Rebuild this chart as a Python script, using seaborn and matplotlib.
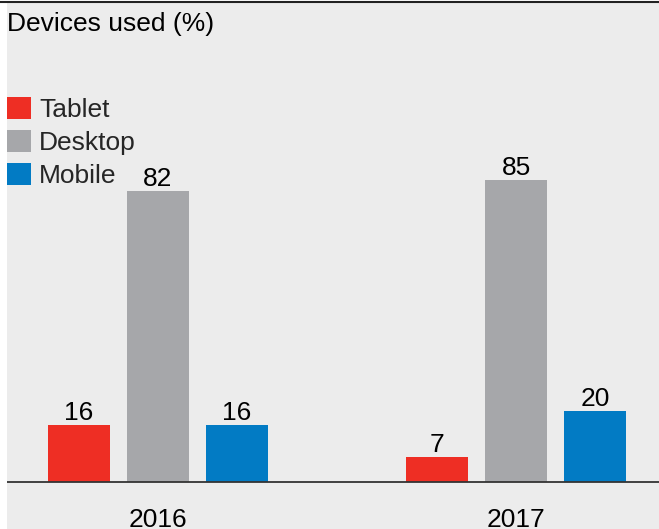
import numpy as np
import pandas as pd
import matplotlib.pyplot as plt
import seaborn as sns

# data
years = ["2016", "2017"]
devices = ["Tablet", "Desktop", "Mobile"]
tablet = [16, 7]
desktop = [82, 85]
mobile = [16, 20]
colors = ["#ee2e24", "#a6a7aa", "#027bc4"]

df = pd.DataFrame({
    "year": years * 3,
    "device": [d for d in devices for _ in years],
    "value": tablet + desktop + mobile,
})

sns.set_style("white")
plt.rcParams["font.family"] = ["Liberation Sans", "DejaVu Sans"]
fs = 19

W, H = 659, 529
fig = plt.figure(figsize=(W / 100, H / 100), dpi=100, facecolor="white")
ax = fig.add_axes([7 / W, 0, (W - 7) / W, (H - 2) / H], facecolor="#ececec")

sns.barplot(data=df, x="year", y="value", hue="device", hue_order=devices,
            palette=colors, saturation=1, width=0.662, gap=0.215,
            linewidth=0, edgecolor="none", ax=ax)

# pixel scale: baseline at 482 px, 3.55 px per unit
ppu = 3.55
ax.set_ylim(-47 / ppu, (H - 2 - 47) / ppu)
ax.set_xlim((7 - 158) / 358, (W - 158) / 358)

for c in ax.containers:
    ax.bar_label(c, fmt="%d", fontsize=fs, padding=0, color="black")

ax.axhline(0, color="#333333", lw=1.3)
for i, y in enumerate(years):
    ax.text(i, -38 / ppu, y, ha="center", va="center", fontsize=fs, color="black")

ax.set_xticks([])
ax.set_yticks([])
ax.set_xlabel("")
ax.set_ylabel("")
for s in ax.spines.values():
    s.set_visible(False)

handles, labels = ax.get_legend_handles_labels()
ax.legend(handles, labels, loc="upper left", bbox_to_anchor=(7 / W, 1 - 97 / H),
          bbox_transform=fig.transFigure, frameon=False, fontsize=fs,
          handlelength=0.91, handleheight=0.91, handletextpad=0.3,
          labelspacing=0.3, borderpad=0, borderaxespad=0)

fig.text(7 / W, 1 - 12 / H, "Devices used (%)", ha="left", va="top",
         fontsize=fs, color="black")
fig.add_artist(plt.Line2D([0, 1], [1 - 1.5 / H, 1 - 1.5 / H], color="#222222", lw=1.5))

fig.savefig("out.png", dpi=100, facecolor="white")
